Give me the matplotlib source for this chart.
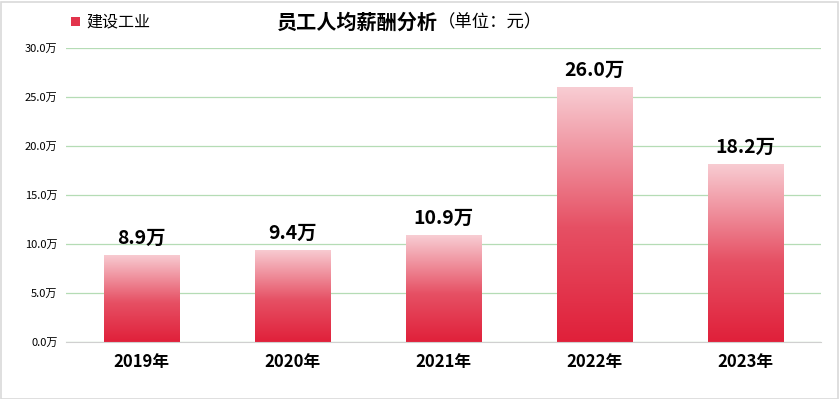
import matplotlib
matplotlib.use("Agg")
import matplotlib.pyplot as plt
import numpy as np
from matplotlib.colors import LinearSegmentedColormap
from matplotlib.patches import Rectangle

plt.rcParams['font.family'] = ['Noto Sans CJK SC', 'DejaVu Sans']

categories = ["2019年", "2020年", "2021年", "2022年", "2023年"]
values = [8.9, 9.4, 10.9, 26.0, 18.2]
yticks = [0, 5, 10, 15, 20, 25, 30]
ytick_labels = ["0.0万", "5.0万", "10.0万", "15.0万", "20.0万", "25.0万", "30.0万"]
title = "员工人均薪酬分析"
title_unit = "（单位：元）"
legend_label = "建设工业"

fig = plt.figure(figsize=(8.39, 3.99), dpi=100)
ax = fig.add_axes([66/839, 57/399, (821-66)/839, (342-48)/399])

cmap = LinearSegmentedColormap.from_list("g", [
    (0.0, (224/255, 32/255, 58/255)),
    (0.45, (230/255, 80/255, 100/255)),
    (1.0, (248/255, 205/255, 211/255)),
])
grad = np.linspace(0, 1, 256).reshape(-1, 1)

x = np.arange(len(categories))
bars = ax.bar(x, values, width=0.5, color='none', edgecolor='none', zorder=3)
for b in bars:
    x0, y0 = b.get_x(), b.get_y()
    w, h = b.get_width(), b.get_height()
    im = ax.imshow(grad, cmap=cmap, origin='lower', aspect='auto',
                   extent=(x0, x0 + w, y0, y0 + h), zorder=3, interpolation='bilinear')
    im.set_clip_path(b)

for xi, v in zip(x, values):
    ax.text(xi, v + 0.7, f"{v:.1f}万", ha='center', va='bottom',
            fontsize=14, fontweight='bold', color='black', zorder=4)

ax.set_xlim(-0.5, len(categories) - 0.5)
ax.set_ylim(0, 30)
ax.set_yticks(yticks)
ax.set_yticklabels(ytick_labels, fontsize=8)
ax.set_xticks(x)
ax.set_xticklabels(categories, fontsize=12, fontweight='bold')
ax.tick_params(axis='both', length=0)
ax.tick_params(axis='x', pad=8)
ax.tick_params(axis='y', pad=6)
ax.yaxis.grid(True, color='#b5dcb5', linewidth=0.9, zorder=0)
ax.set_axisbelow(True)
for s in ['top', 'right', 'left']:
    ax.spines[s].set_visible(False)
ax.spines['bottom'].set_color('#d0d0d0')
ax.spines['bottom'].set_zorder(5)

fig.text(438/839, 1 - 22/399, title, ha='right', va='center', fontsize=14.5, fontweight='bold')
fig.text(438/839, 1 - 22/399, title_unit, ha='left', va='center', fontsize=12.5)

fig.patches.append(Rectangle((71/839, 1 - 26/399), 9/839, 9/399, transform=fig.transFigure,
                             facecolor='#e2344c', edgecolor='none'))
fig.text(86/839, 1 - 22/399, legend_label, ha='left', va='center', fontsize=11.5)

fig.patches.append(Rectangle((0.5/839, 0.5/399), 837/839, 397/399, transform=fig.transFigure,
                             facecolor='none', edgecolor='#d9d9d9', linewidth=1.2))

fig.savefig("out.png", dpi=100)
